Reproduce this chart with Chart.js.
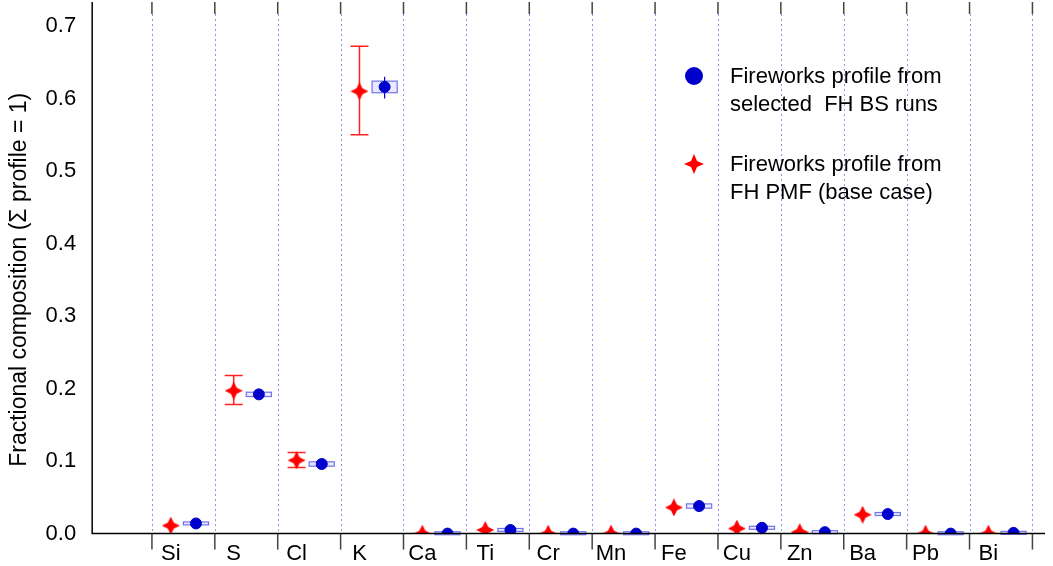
<!DOCTYPE html>
<html><head><meta charset="utf-8">
<script src="https://cdn.jsdelivr.net/npm/chart.js@4/dist/chart.umd.min.js"></script>
<style>
body{margin:0;background:#fff;font-family:"Liberation Sans",Arial,sans-serif}
#w{position:relative;width:1053px;height:566px}
.lg{position:absolute;left:730px;font-size:22px;line-height:28px;color:#000}
.mk{position:absolute;left:-46px;top:4px}
</style></head><body>
<div id="w"><canvas id="c" width="1053" height="566"></canvas>
<div class="lg" style="top:62px"><svg class="mk" width="20" height="20"><circle cx="10" cy="10" r="9" fill="#0000cc"/></svg>Fireworks profile from<br>selected&nbsp; FH BS runs</div>
<div class="lg" style="top:150px"><svg class="mk" width="20" height="20"><path d="M10 0 L13 7 L20 10 L13 13 L10 20 L7 13 L0 10 L7 7Z" fill="#ff0000"/></svg>Fireworks profile from<br>FH PMF (base case)</div>
</div>
<script>
const categories=["Si","S","Cl","K","Ca","Ti","Cr","Mn","Fe","Cu","Zn","Ba","Pb","Bi"];
const pmfValues=[0.011,0.197,0.101,0.610,0.000,0.005,0.000,0.000,0.036,0.007,0.002,0.026,0.000,0.000];
const pmfLow=[0.009,0.178,0.091,0.550,0.000,0.004,0.000,0.000,0.032,0.005,0.001,0.024,0.000,0.000];
const pmfHigh=[0.013,0.218,0.112,0.672,0.001,0.007,0.001,0.001,0.040,0.009,0.003,0.029,0.001,0.001];
const bsValues=[0.014,0.192,0.096,0.616,0.000,0.005,0.000,0.000,0.038,0.008,0.002,0.027,0.000,0.001];
const bsBoxLow=[0.012,0.189,0.093,0.608,0.000,0.004,0.000,0.000,0.035,0.007,0.001,0.026,0.000,0.000];
const bsBoxHigh=[0.016,0.195,0.099,0.624,0.001,0.006,0.001,0.001,0.041,0.009,0.003,0.028,0.001,0.002];
const bsLow=[0.011,0.185,0.092,0.600,0.000,0.003,0.000,0.000,0.034,0.006,0.001,0.025,0.000,0.000];
const bsHigh=[0.017,0.199,0.101,0.630,0.001,0.007,0.001,0.001,0.042,0.010,0.004,0.029,0.001,0.002];
const yTicks=[0,0.1,0.2,0.3,0.4,0.5,0.6,0.7];
const off=0.2;
const deco={id:'deco',
 beforeDatasetsDraw(ch){const c=ch.ctx,x=ch.scales.x,y=ch.scales.y,a=ch.chartArea;
  c.save();c.strokeStyle='#9090ee';c.lineWidth=1;c.setLineDash([2,3]);
  for(let i=-1;i<=categories.length;i++){const px=Math.round(x.getPixelForValue(i+0.5))+0.5;c.beginPath();c.moveTo(px,a.top-12);c.lineTo(px,a.bottom);c.stroke();}
  c.setLineDash([]);
  c.strokeStyle='rgba(60,60,230,0.7)';c.fillStyle='rgba(200,200,255,0.4)';c.lineWidth=1.2;
  categories.forEach((k,i)=>{const x0=x.getPixelForValue(i+off-0.2),x1=x.getPixelForValue(i+off+0.2);
   let y0=y.getPixelForValue(bsBoxHigh[i]),y1=y.getPixelForValue(bsBoxLow[i]);if(y1-y0<3){const m=(y0+y1)/2;y0=m-1.5;y1=m+1.5;}
   c.fillRect(x0,y0,x1-x0,y1-y0);c.strokeRect(x0,y0,x1-x0,y1-y0);
   const bx=x.getPixelForValue(i+off);c.strokeStyle='#0000cc';c.beginPath();c.moveTo(bx,y.getPixelForValue(bsHigh[i]));c.lineTo(bx,y.getPixelForValue(bsLow[i]));c.stroke();c.strokeStyle='rgba(60,60,230,0.7)';
  });
  c.strokeStyle='#ff2020';c.lineWidth=1.5;
  categories.forEach((k,i)=>{const px=x.getPixelForValue(i-off),t=y.getPixelForValue(pmfHigh[i]),b=y.getPixelForValue(pmfLow[i]);
   if(b-t<6)return;c.beginPath();c.moveTo(px,t);c.lineTo(px,b);c.moveTo(px-9,t);c.lineTo(px+9,t);c.moveTo(px-9,b);c.lineTo(px+9,b);c.stroke();});
  c.restore();},
 afterDraw(ch){const c=ch.ctx,x=ch.scales.x,a=ch.chartArea;c.save();c.strokeStyle='#444';c.lineWidth=1.5;
  for(let i=-1;i<=categories.length;i++){const px=x.getPixelForValue(i+0.5);c.beginPath();c.moveTo(px,a.bottom);c.lineTo(px,a.bottom+16);c.stroke();c.beginPath();c.moveTo(px,a.top-12);c.lineTo(px,a.top-24);c.stroke();}
  c.strokeStyle='#000';c.beginPath();c.moveTo(a.left,a.top-24);c.lineTo(a.left,a.bottom);c.lineTo(a.right,a.bottom);c.stroke();c.restore();}
};
const star=(()=>{const cv=document.createElement('canvas');cv.width=18;cv.height=18;const g=cv.getContext('2d');g.fillStyle='#ff0000';g.beginPath();g.moveTo(9,0);g.lineTo(12,6);g.lineTo(18,9);g.lineTo(12,12);g.lineTo(9,18);g.lineTo(6,12);g.lineTo(0,9);g.lineTo(6,6);g.closePath();g.fill();return cv;})();
new Chart(document.getElementById('c'),{type:'scatter',
 data:{datasets:[
  {data:pmfValues.map((v,i)=>({x:i-off,y:v})),pointStyle:star,order:1},
  {data:bsValues.map((v,i)=>({x:i+off,y:v})),backgroundColor:'#0000cc',borderColor:'#0000cc',pointRadius:5.5,order:0}]},
 options:{responsive:false,animation:false,events:[],
  layout:{padding:{top:26,right:8,left:2,bottom:0}},
  plugins:{legend:{display:false},tooltip:{enabled:false}},
  scales:{
   x:{type:'linear',min:-1.45,max:13.7,grid:{display:false},border:{display:false},
    afterBuildTicks(s){s.ticks=categories.map((k,i)=>({value:i-0.2}));},
    ticks:{autoSkip:false,maxRotation:0,padding:-1,color:'#000',font:{family:'Liberation Sans',size:22},callback:(v,i)=>categories[i]}},
   y:{min:0,max:0.7,grid:{display:false},border:{display:false},
    afterBuildTicks(s){s.ticks=yTicks.map(v=>({value:v}));},
    ticks:{color:'#000',padding:8,font:{family:'Liberation Sans',size:22},callback:v=>v.toFixed(1)},
    title:{display:true,text:'Fractional composition (Σ profile = 1)',color:'#000',font:{family:'Liberation Sans',size:23}}}}},
 plugins:[deco]});
</script></body></html>
